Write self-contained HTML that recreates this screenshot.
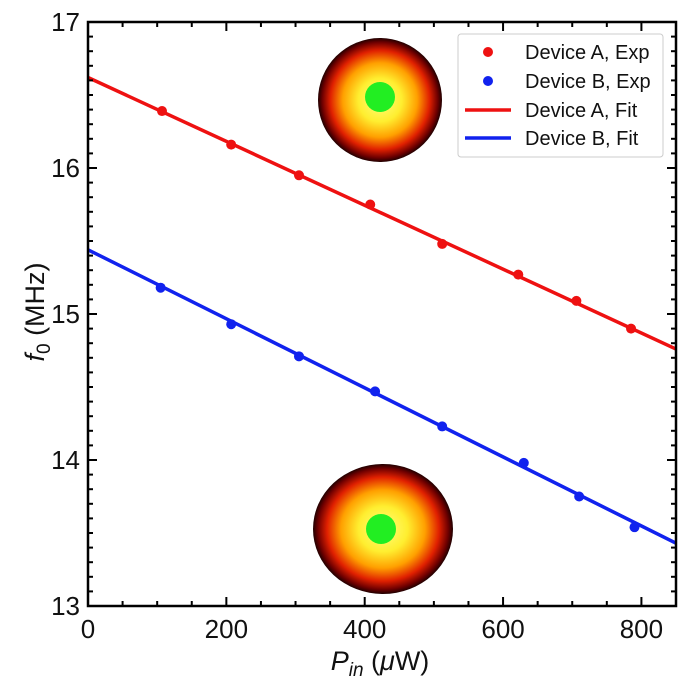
<!DOCTYPE html>
<html><head><meta charset="utf-8"><style>
html,body{margin:0;padding:0;background:#fff;}
svg text{font-family:"Liberation Sans",Arial,sans-serif;fill:#111;}
</style></head><body>
<svg id="chart" width="689" height="684" xmlns="http://www.w3.org/2000/svg">
<defs>
<radialGradient id="heat" cx="50%" cy="50%" r="50%">
<stop offset="0" stop-color="#ffff80"/>
<stop offset="0.35" stop-color="#ffee30"/>
<stop offset="0.6" stop-color="#ffa000"/>
<stop offset="0.8" stop-color="#e02000"/>
<stop offset="0.93" stop-color="#700000"/>
<stop offset="1" stop-color="#200000"/>
</radialGradient>
</defs>
<g id="plot"></g>
</svg>
<script>
const xTicks=[0,200,400,600,800];
const yTicks=[13,14,15,16,17];
const aPower=[107,207,305,408,512,622,706,785];
const aFreq=[16.39,16.16,15.95,15.75,15.48,15.27,15.09,14.90];
const bPower=[105,207,305,415,512,630,710,790];
const bFreq=[15.18,14.93,14.71,14.47,14.23,13.98,13.75,13.54];
const aFitX=[0,850];
const aFitY=[16.62,14.76];
const bFitX=[0,850];
const bFitY=[15.44,13.43];

const L=88,R=676,T=22,B=606;
const xs=v=>L+(v-0)/(850-0)*(R-L);
const ys=v=>B-(v-13)/(17-13)*(B-T);
const NS="http://www.w3.org/2000/svg";
const g=document.getElementById('plot');
function mk(tag,attrs,parent){const e=document.createElementNS(NS,tag);for(const k in attrs)e.setAttribute(k,attrs[k]);(parent||g).appendChild(e);return e;}

let c1=mk('circle',{cx:380,cy:100,r:62,fill:'url(#heat)'});


let d1=mk('circle',{cx:380,cy:97,r:15,fill:'#22ee22'});


let c2=mk('ellipse',{cx:383,cy:529,rx:70,ry:65,fill:'url(#heat)'});


let d2=mk('circle',{cx:381,cy:529,r:15,fill:'#22ee22'});



let fa=mk('line',{x1:xs(aFitX[0]),y1:ys(aFitY[0]),x2:xs(aFitX[1]),y2:ys(aFitY[1]),stroke:'#ee1111','stroke-width':3.5});


let fb=mk('line',{x1:xs(bFitX[0]),y1:ys(bFitY[0]),x2:xs(bFitX[1]),y2:ys(bFitY[1]),stroke:'#1122ee','stroke-width':3.5});


aPower.forEach((p,i)=>{let c=mk('circle',{cx:xs(p),cy:ys(aFreq[i]),r:5,fill:'#ee1111'});

});
bPower.forEach((p,i)=>{let c=mk('circle',{cx:xs(p),cy:ys(bFreq[i]),r:5,fill:'#1122ee'});

});

let fr=mk('rect',{x:L,y:T,width:R-L,height:B-T,fill:'none',stroke:'#000','stroke-width':2.5});


for(let v=0;v<=850;v+=50){const x=xs(v);const len=(v%200===0)?9:5;
 mk('line',{x1:x,y1:B,x2:x,y2:B-len,stroke:'#000','stroke-width':2});
 mk('line',{x1:x,y1:T,x2:x,y2:T+len,stroke:'#000','stroke-width':2});}
xTicks.forEach(v=>{let t=mk('text',{x:xs(v),y:B+32,'text-anchor':'middle','font-size':26});t.textContent=v;

});
for(let k=0;k<=40;k++){const v=13+k*0.1;const y=ys(v);const len=(k%10===0)?9:5;
 mk('line',{x1:L,y1:y,x2:L+len,y2:y,stroke:'#000','stroke-width':2});
 mk('line',{x1:R,y1:y,x2:R-len,y2:y,stroke:'#000','stroke-width':2});}
yTicks.forEach(v=>{let t=mk('text',{x:L-8,y:ys(v)+9,'text-anchor':'end','font-size':26});t.textContent=v;

});

let xt=mk('text',{x:380,y:670,'text-anchor':'middle','font-size':27});
xt.innerHTML='<tspan font-style="italic">P</tspan><tspan font-style="italic" font-size="19" dy="6">in</tspan><tspan dy="-6"> (</tspan><tspan font-style="italic">μ</tspan><tspan>W)</tspan>';


let yt=mk('text',{x:0,y:0,'text-anchor':'middle','font-size':27,transform:'translate(44,312) rotate(-90)'});
yt.innerHTML='<tspan font-style="italic">f</tspan><tspan font-size="19" dy="6">0</tspan><tspan dy="-6"> (MHz)</tspan>';



let lg=mk('g',{});


mk('rect',{x:458,y:34,width:205,height:123,rx:3,fill:'#fff',stroke:'#ccc','stroke-width':1},lg);
const labels=['Device A, Exp','Device B, Exp','Device A, Fit','Device B, Fit'];
const cols=['#ee1111','#1122ee','#ee1111','#1122ee'];
const rows=[52,81,110,138];
labels.forEach((s,i)=>{
 let e=mk('g',{},lg);
 
 
 if(i<2) mk('circle',{cx:488,cy:rows[i],r:5,fill:cols[i]},e);
 else mk('line',{x1:465,y1:rows[i],x2:511,y2:rows[i],stroke:cols[i],'stroke-width':3.5},e);
 let t=mk('text',{x:525,y:rows[i]+7,'font-size':20},e);t.textContent=s;
});
</script>
</body></html>
